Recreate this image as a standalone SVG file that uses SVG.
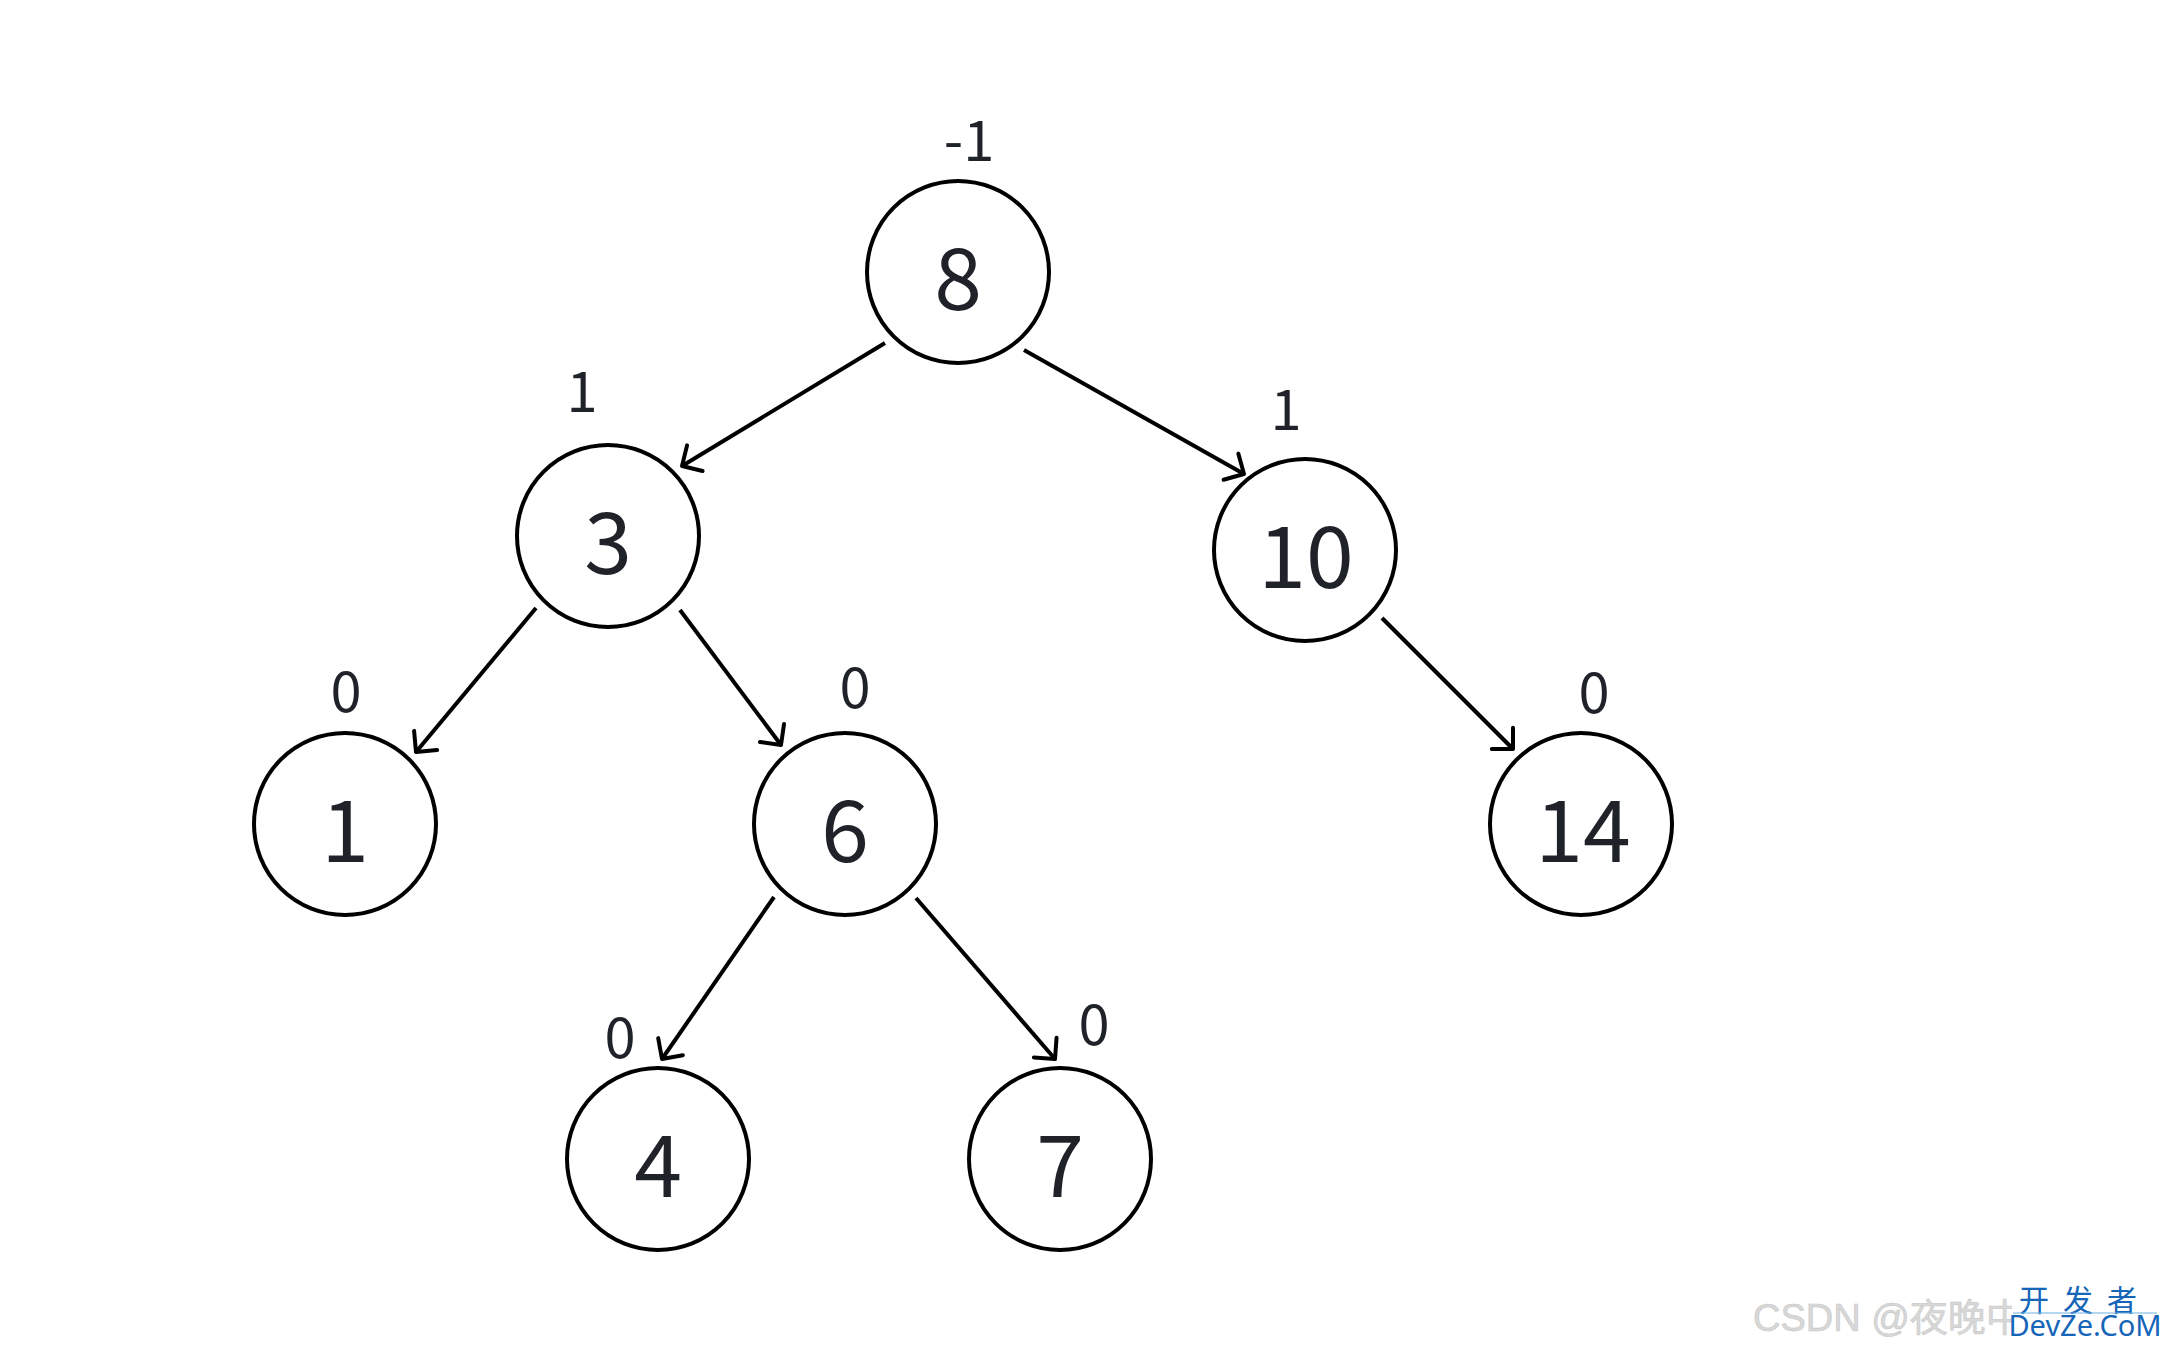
<svg xmlns="http://www.w3.org/2000/svg" width="2168" height="1348" viewBox="0 0 2168 1348">
<defs>
<style>
.node circle{fill:#fff;stroke:#000;stroke-width:4}
.node text{font-family:"Noto Sans CJK SC","Noto Sans",sans-serif;font-size:86px;fill:#1f2329;text-anchor:middle}
.bf{font-family:"Noto Sans CJK SC","Noto Sans",sans-serif;font-size:56px;fill:#1f2329;text-anchor:middle}
#edges line{stroke:#000;stroke-width:4;fill:none;marker-end:url(#arr)}
</style>
<marker id="arr" markerUnits="userSpaceOnUse" markerWidth="40" markerHeight="40" viewBox="-20 -20 40 40" refX="0" refY="0" orient="auto">
<path d="M-15,-15 L0,0 L-15,15" fill="none" stroke="#000" stroke-width="4" stroke-linecap="round" stroke-linejoin="round"/>
</marker>
<clipPath id="wmclip"><rect x="1740" y="1280" width="272" height="60"/></clipPath>
</defs>
<rect width="2168" height="1348" fill="#fff"/>
<g id="edges">
<line x1="885" y1="343" x2="682" y2="466"/>
<line x1="1024" y1="350" x2="1244" y2="474"/>
<line x1="536" y1="608" x2="416" y2="752"/>
<line x1="680" y1="610" x2="781" y2="745"/>
<line x1="1382" y1="618" x2="1513" y2="749"/>
<line x1="774" y1="897" x2="662" y2="1059"/>
<line x1="916" y1="898" x2="1055" y2="1059"/>
</g>
<g id="n8" class="node"><circle cx="958" cy="272" r="91"/><text x="958" y="310">8</text></g>
<g id="n3" class="node"><circle cx="608" cy="536" r="91"/><text x="608" y="574">3</text></g>
<g id="n10" class="node"><circle cx="1305" cy="550" r="91"/><text x="1306" y="588">10</text></g>
<g id="n1" class="node"><circle cx="345" cy="824" r="91"/><text x="345" y="862">1</text></g>
<g id="n6" class="node"><circle cx="845" cy="824" r="91"/><text x="845" y="862">6</text></g>
<g id="n14" class="node"><circle cx="1581" cy="824" r="91"/><text x="1583" y="862">14</text></g>
<g id="n4" class="node"><circle cx="658" cy="1159" r="91"/><text x="658" y="1197">4</text></g>
<g id="n7" class="node"><circle cx="1060" cy="1159" r="91"/><text x="1060" y="1197">7</text></g>
<g id="labels">
<text class="bf" x="969" y="161">-1</text>
<text class="bf" x="582" y="412">1</text>
<text class="bf" x="1286" y="430">1</text>
<text class="bf" x="346" y="712">0</text>
<text class="bf" x="855" y="708">0</text>
<text class="bf" x="1594" y="713">0</text>
<text class="bf" x="620" y="1058">0</text>
<text class="bf" x="1094" y="1045">0</text>
</g>
<g id="watermark">
<text x="1753" y="1331" font-family="'Liberation Sans','Noto Sans CJK SC',sans-serif" font-size="38" fill="#d8d8d8" stroke="#c8c8c8" stroke-width="0.6" clip-path="url(#wmclip)">CSDN @夜晚中</text>
<rect x="2012" y="1284" width="146" height="54" fill="#fff"/>
<text x="2085" y="1311" font-family="'Noto Sans CJK SC',sans-serif" font-size="30" fill="#1565b8" text-anchor="middle" letter-spacing="14">开发者</text>
<line x1="2013" y1="1313" x2="2157" y2="1313" stroke="#6aaee0" stroke-width="1"/>
<text x="2085" y="1336" font-family="'Noto Sans','Liberation Sans',sans-serif" font-size="29" fill="#1565b8" text-anchor="middle">DevZe.CoM</text>
</g>
</svg>
